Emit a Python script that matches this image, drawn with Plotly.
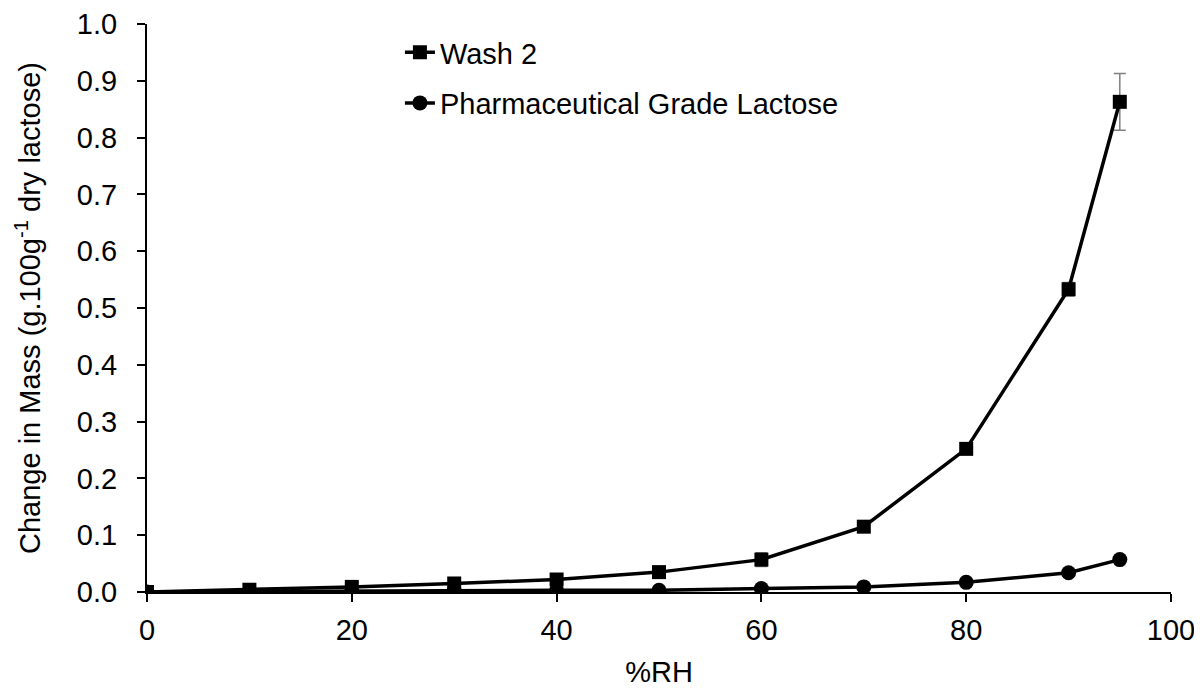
import plotly.graph_objects as go

rh = [0, 10, 20, 30, 40, 50, 60, 70, 80, 90, 95]
wash2 = [0.0, 0.004, 0.009, 0.015, 0.022, 0.035, 0.057, 0.115, 0.252, 0.533, 0.863]
wash2_err = [0.002, 0.001, 0.001, 0.001, 0.002, 0.003, 0.012, 0.004, 0.005, 0.012, 0.05]
pharma = [0.0, 0.001, 0.001, 0.002, 0.003, 0.003, 0.006, 0.009, 0.017, 0.034, 0.057]
pharma_err = [0.0, 0.0, 0.0, 0.0, 0.0, 0.0, 0.001, 0.001, 0.001, 0.002, 0.002]
y_ticks = [0.0, 0.1, 0.2, 0.3, 0.4, 0.5, 0.6, 0.7, 0.8, 0.9, 1.0]
y_ticklabels = ["0.0", "0.1", "0.2", "0.3", "0.4", "0.5", "0.6", "0.7", "0.8", "0.9", "1.0"]
x_ticks = [0, 20, 40, 60, 80, 100]

font = "Liberation Sans, Arial, sans-serif"

fig = go.Figure()
fig.add_trace(go.Scatter(
    x=rh, y=wash2, name="Wash 2", mode="lines+markers",
    line=dict(color="black", width=3.5),
    marker=dict(symbol="square", size=14, color="black"),
    error_y=dict(type="data", array=wash2_err, visible=True, color="#808080", thickness=1.5, width=6),
    legendgroup="a",
))
fig.add_trace(go.Scatter(
    x=rh, y=pharma, name="Pharmaceutical Grade Lactose", mode="lines+markers",
    line=dict(color="black", width=3.5),
    marker=dict(symbol="circle", size=15, color="black"),
    error_y=dict(type="data", array=pharma_err, visible=True, color="#808080", thickness=1.5, width=6),
    legendgroup="b",
))

fig.update_layout(
    width=1202, height=689,
    margin=dict(l=139, r=39, t=16, b=105),
    paper_bgcolor="white", plot_bgcolor="white",
    font=dict(family=font, size=29, color="black"),
    showlegend=True,
    legend=dict(x=0.247, y=0.995, xanchor="left", yanchor="top",
                font=dict(size=29), bgcolor="rgba(0,0,0,0)",
                tracegroupgap=10, itemwidth=30),
    xaxis=dict(range=[0, 100], tickmode="array", tickvals=x_ticks, showline=True,
               linecolor="black", linewidth=2,
               ticks="outside", ticklen=8, tickcolor="black", tickwidth=1.5,
               ticklabelstandoff=3, automargin=False,
               showgrid=False, zeroline=False,
               title=dict(text="%RH", font=dict(size=29), standoff=17)),
    yaxis=dict(range=[0, 1.0], tickmode="array", tickvals=y_ticks, ticktext=y_ticklabels,
               showline=True, linecolor="black",
               linewidth=2, ticks="outside", ticklen=8, tickcolor="black", tickwidth=1.5,
               ticklabelstandoff=14, automargin=False,
               showgrid=False, zeroline=False,
               title=dict(text="Change in Mass (g.100g<sup>-1</sup> dry lactose)", font=dict(size=29), standoff=28)),
)

fig.write_html("out.html")
